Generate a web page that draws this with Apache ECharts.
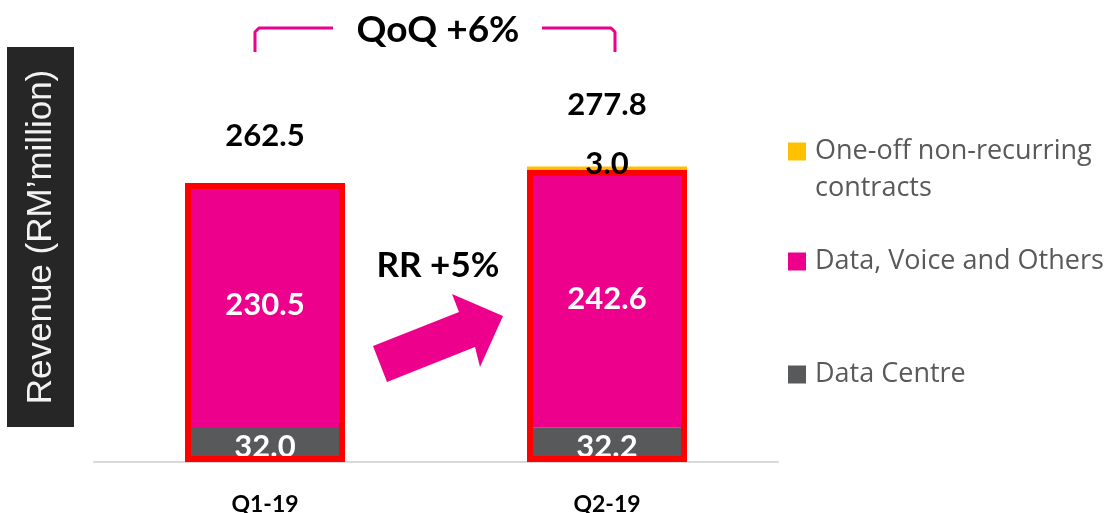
<!DOCTYPE html>
<html>
<head>
<meta charset="utf-8">
<script src="https://cdn.jsdelivr.net/npm/echarts@6/dist/echarts.min.js"></script>
<style>
  html, body { margin: 0; padding: 0; background: #ffffff; }
  #chart { width: 1115px; height: 513px; }
</style>
</head>
<body>
<div id="chart"></div>
<script>
// Quarterly revenue, RM million
const quarters = ['Q1-19', 'Q2-19'];
const dataCentre = [32.0, 32.2];
const dataVoiceOthers = [230.5, 242.6];
const oneOffContracts = [0, 3.0];

const seriesNames = ['One-off non-recurring\ncontracts', 'Data, Voice and Others', 'Data Centre'];

// derived totals
const recurring = quarters.map((_, i) => +(dataCentre[i] + dataVoiceOthers[i]).toFixed(1));
const totals = quarters.map((_, i) => +(recurring[i] + oneOffContracts[i]).toFixed(1));

// style constants
const MAGENTA = '#EC008C';
const GREY = '#58595B';
const YELLOW = '#FFC000';
const OUTLINE_RED = '#FF0000';
const FONT = 'Lato, "Open Sans", sans-serif';
const LEGEND_FONT = '"Open Sans", Lato, sans-serif';
const BAR_WIDTH = 160;
const totalLabelGap = [31, 46];

const chart = echarts.init(document.getElementById('chart'), null, { renderer: 'canvas' });

const valueLabel = (color) => ({
  show: true,
  position: 'inside',
  color: color,
  fontFamily: FONT,
  fontWeight: 'bold',
  fontSize: 31
});

const legendText = {
  color: '#595959',
  fontFamily: LEGEND_FONT,
  fontSize: 27,
  lineHeight: 37,
  padding: [0, 0, 0, 4]
};

const legendBase = {
  orient: 'vertical',
  left: 788,
  padding: 0,
  itemWidth: 18,
  itemHeight: 18,
  icon: 'rect',
  selectedMode: false,
  textStyle: legendText
};

const option = {
  animation: false,
  backgroundColor: '#ffffff',
  grid: { left: 94, right: 337, top: 143, bottom: 51, containLabel: false, outerBoundsMode: 'none' },
  xAxis: {
    type: 'category',
    data: quarters,
    axisTick: { show: false },
    axisLine: { show: true, lineStyle: { color: '#D9D9D9', width: 2 } },
    axisLabel: {
      color: '#000000',
      fontFamily: FONT,
      fontWeight: 'bold',
      fontSize: 23,
      margin: 31
    }
  },
  yAxis: {
    type: 'value',
    min: 0,
    max: 300,
    show: false,
    splitLine: { show: false }
  },
  legend: [
    // blank leading line keeps the first text line level with the swatch
    Object.assign({}, legendBase, { data: [seriesNames[0]], top: 96, formatter: (n) => '\n' + n }),
    Object.assign({}, legendBase, { data: [seriesNames[1]], top: 243 }),
    Object.assign({}, legendBase, { data: [seriesNames[2]], top: 356 })
  ],
  series: [
    {
      name: seriesNames[2],
      type: 'bar',
      stack: 'revenue',
      barWidth: BAR_WIDTH,
      barGap: '-100%',
      data: dataCentre,
      itemStyle: { color: GREY },
      label: Object.assign(valueLabel('#ffffff'), { offset: [0, 2], formatter: (p) => p.value.toFixed(1) }),
      z: 2
    },
    {
      name: seriesNames[1],
      type: 'bar',
      stack: 'revenue',
      barWidth: BAR_WIDTH,
      barGap: '-100%',
      data: dataVoiceOthers,
      itemStyle: { color: MAGENTA },
      label: Object.assign(valueLabel('#ffffff'), { formatter: (p) => p.value.toFixed(1) }),
      z: 2
    },
    {
      name: seriesNames[0],
      type: 'bar',
      stack: 'revenue',
      barWidth: BAR_WIDTH,
      barGap: '-100%',
      data: oneOffContracts,
      itemStyle: { color: YELLOW },
      label: Object.assign(valueLabel('#000000'), {
        offset: [0, -4],
        formatter: (p) => (p.value > 0 ? p.value.toFixed(1) : '')
      }),
      z: 4
    },
    {
      // red outline around the recurring revenue stack
      name: 'recurring',
      type: 'bar',
      barWidth: BAR_WIDTH,
      barGap: '-100%',
      data: recurring,
      silent: true,
      itemStyle: { color: 'rgba(0,0,0,0)', borderColor: OUTLINE_RED, borderWidth: 6 },
      z: 3
    },
    {
      // total revenue labels above each stack
      name: 'total',
      type: 'bar',
      barWidth: BAR_WIDTH,
      barGap: '-100%',
      silent: true,
      data: totals.map((v, i) => ({ value: v, label: { distance: totalLabelGap[i] } })),
      itemStyle: { color: 'rgba(0,0,0,0)' },
      label: {
        show: true,
        position: 'top',
        color: '#000000',
        fontFamily: FONT,
        fontWeight: 'bold',
        fontSize: 31,
        formatter: (p) => p.value.toFixed(1)
      },
      z: 1
    }
  ],
  graphic: [
    // axis title panel
    {
      type: 'rect',
      shape: { x: 7, y: 47, width: 67, height: 380 },
      style: { fill: '#262626' },
      z: 0
    },
    {
      type: 'text',
      x: 41, y: 237,
      rotation: Math.PI / 2,
      style: {
        text: 'Revenue (RM\u2019million)',
        fill: '#F2F2F2',
        font: '35px "Liberation Sans", Arial, sans-serif',
        align: 'center',
        verticalAlign: 'middle'
      },
      z: 1
    },
    // quarter-on-quarter bracket
    {
      type: 'polyline',
      shape: { points: [[255, 52], [255, 32], [259, 28], [333, 28]] },
      style: { stroke: MAGENTA, lineWidth: 3, fill: null, lineJoin: 'round' }
    },
    {
      type: 'polyline',
      shape: { points: [[542, 28], [611, 28], [615, 32], [615, 52]] },
      style: { stroke: MAGENTA, lineWidth: 3, fill: null, lineJoin: 'round' }
    },
    {
      type: 'text',
      x: 438, y: 30,
      style: {
        text: 'QoQ +6%',
        fill: '#000000',
        font: 'bold 37px ' + FONT,
        align: 'center',
        verticalAlign: 'middle'
      }
    },
    // recurring revenue growth arrow
    {
      type: 'polygon',
      shape: { points: [[373, 346], [459, 312], [452, 294], [503, 316], [480, 367], [475, 347], [387, 382]] },
      style: { fill: MAGENTA }
    },
    {
      type: 'text',
      x: 438, y: 266,
      style: {
        text: 'RR +5%',
        fill: '#000000',
        font: 'bold 35px ' + FONT,
        align: 'center',
        verticalAlign: 'middle'
      }
    }
  ]
};

chart.setOption(option);
</script>
</body>
</html>
